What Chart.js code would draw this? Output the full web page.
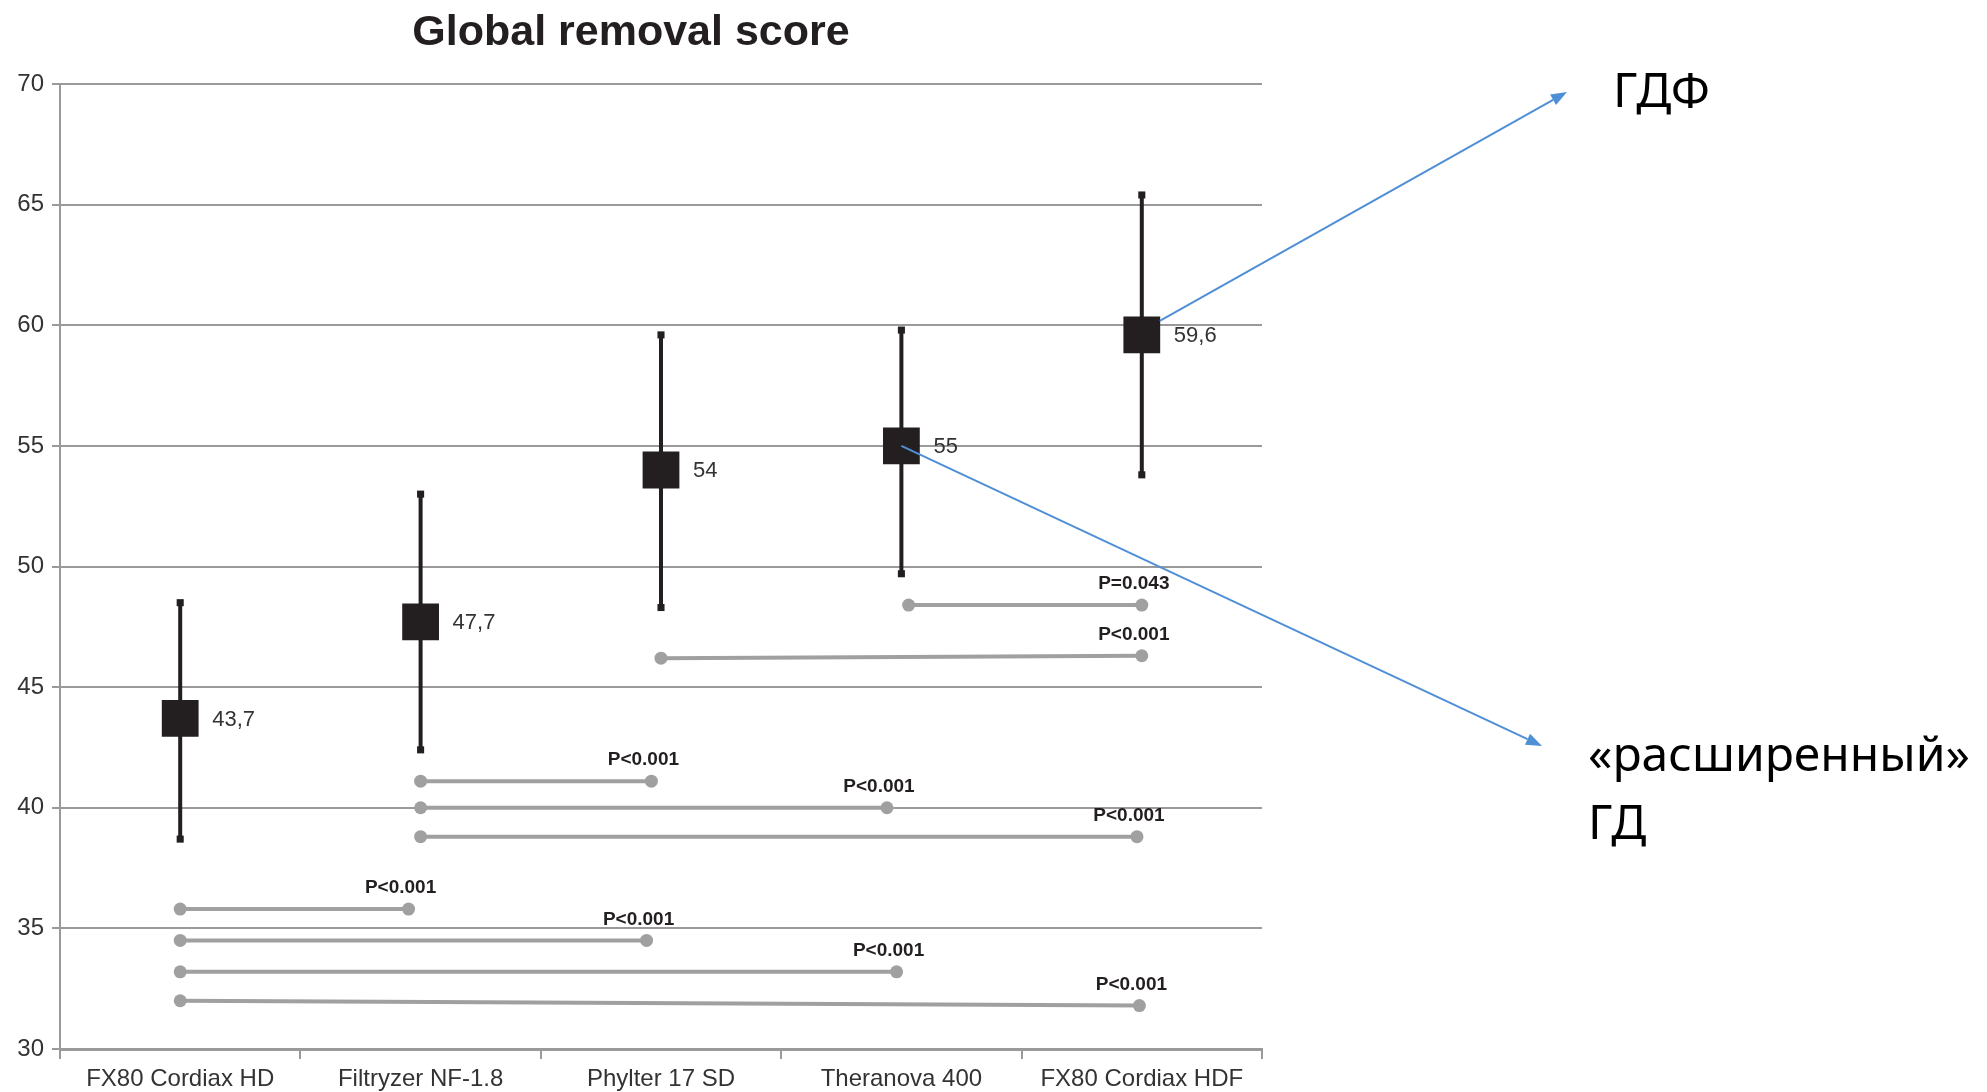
<!DOCTYPE html>
<html>
<head>
<meta charset="utf-8">
<script src="https://cdn.jsdelivr.net/npm/chart.js@4"></script>
<style>
  html, body { margin: 0; padding: 0; background: #fff; }
  #wrap { width: 1987px; height: 1092px; position: relative; }
</style>
</head>
<body>
<div id="wrap"><canvas id="chart"></canvas></div>
<script>
// Global removal score per dialyzer (mean with range)
const categories = ['FX80 Cordiax HD', 'Filtryzer NF-1.8', 'Phylter 17 SD', 'Theranova 400', 'FX80 Cordiax HDF'];
const meanValues = [43.7, 47.7, 54, 55, 59.6];
const meanLabels = ['43,7', '47,7', '54', '55', '59,6'];
const lowerValues = [38.7, 42.4, 48.3, 49.7, 53.8];
const upperValues = [48.5, 53.0, 59.6, 59.8, 65.4];
const yMin = 30, yMax = 70, yStep = 5;

// pairwise comparisons (x = category index, y = level on the score axis)
const pairFromX = [3.03, 2, 1, 1, 1, 0, 0, 0, 0];
const pairToX = [4, 4, 1.96, 2.94, 3.98, 0.95, 1.94, 2.98, 3.99];
const pairFromY = [48.4, 46.2, 41.1, 40.0, 38.8, 35.8, 34.5, 33.2, 32.0];
const pairToY = [48.4, 46.3, 41.1, 40.0, 38.8, 35.8, 34.5, 33.2, 31.8];
const pairLabels = ['P=0.043', 'P<0.001', 'P<0.001', 'P<0.001', 'P<0.001', 'P<0.001', 'P<0.001', 'P<0.001', 'P<0.001'];

// side notes
const noteHdf = ['ГДФ'];
const noteHd = ['«расширенный»', 'ГД'];

const dark = '#231f20';
const gray = '#a0a0a0';
const blue = '#4f8fd6';

const meanPoints = meanValues.map((v, i) => ({ x: i, y: v }));
const errorPoints = [];
lowerValues.forEach((lo, i) => {
    errorPoints.push({ x: i, y: lo }, { x: i, y: upperValues[i] }, { x: i, y: null });
});
const pairPoints = [];
pairFromX.forEach((x0, i) => {
    pairPoints.push({ x: x0, y: pairFromY[i] }, { x: pairToX[i], y: pairToY[i] }, { x: x0, y: null });
});

// value and p labels
const labelPlugin = {
    id: 'valueLabels',
    afterDatasetsDraw(chart) {
        const ctx = chart.ctx;
        ctx.save();
        ctx.fillStyle = '#333';
        ctx.font = '22px "Liberation Sans", Arial';
        ctx.textAlign = 'left';
        ctx.textBaseline = 'middle';
        chart.getDatasetMeta(0).data.forEach((pt, i) => {
            ctx.fillText(meanLabels[i], pt.x + 32, pt.y + 1);
        });
        ctx.fillStyle = dark;
        ctx.font = 'bold 19px "Liberation Sans", Arial';
        ctx.textAlign = 'center';
        const pairs = chart.getDatasetMeta(2).data;
        pairLabels.forEach((t, i) => {
            const end = pairs[i * 3 + 1];
            ctx.fillText(t, end.x - 8, end.y - 21);
        });
        ctx.restore();
    }
};

function arrow(ctx, x0, y0, x1, y1) {
    const a = Math.atan2(y1 - y0, x1 - x0);
    const len = 16, half = 6;
    ctx.beginPath();
    ctx.moveTo(x0, y0);
    ctx.lineTo(x1 - Math.cos(a) * len, y1 - Math.sin(a) * len);
    ctx.stroke();
    ctx.beginPath();
    ctx.moveTo(x1, y1);
    ctx.lineTo(x1 - Math.cos(a) * len - Math.sin(a) * half, y1 - Math.sin(a) * len + Math.cos(a) * half);
    ctx.lineTo(x1 - Math.cos(a) * len + Math.sin(a) * half, y1 - Math.sin(a) * len - Math.cos(a) * half);
    ctx.closePath();
    ctx.fill();
}

// arrows to the side notes
const notePlugin = {
    id: 'notes',
    afterDraw(chart) {
        const ctx = chart.ctx;
        const pts = chart.getDatasetMeta(0).data;
        const hdf = pts[4], thera = pts[3];
        ctx.save();
        ctx.strokeStyle = blue;
        ctx.fillStyle = blue;
        ctx.lineWidth = 2;
        arrow(ctx, hdf.x + 18, hdf.y - 14, 1567, 92);
        arrow(ctx, thera.x, thera.y, 1542, 746);

        ctx.fillStyle = '#000';
        ctx.font = '48px "Noto Sans", "Open Sans", sans-serif';
        ctx.textAlign = 'left';
        ctx.textBaseline = 'middle';
        noteHdf.forEach((t, i) => ctx.fillText(t, 1613, 93 + i * 68));
        noteHd.forEach((t, i) => ctx.fillText(t, 1588, 757 + i * 68));
        ctx.restore();
    }
};

Chart.defaults.font.family = '"Liberation Sans", Arial, sans-serif';
Chart.defaults.color = '#333';

new Chart(document.getElementById('chart'), {
    type: 'line',
    data: {
        labels: categories,
        datasets: [
            {
                label: 'Mean',
                data: meanPoints,
                xAxisID: 'xv',
                showLine: false,
                pointStyle: 'rect',
                pointRadius: 26,
                pointBackgroundColor: dark,
                pointBorderWidth: 0,
                order: 0
            },
            {
                label: 'Range',
                data: errorPoints,
                xAxisID: 'xv',
                borderColor: dark,
                borderWidth: 4,
                spanGaps: false,
                pointStyle: 'rect',
                pointRadius: 5,
                pointBackgroundColor: dark,
                pointBorderWidth: 0,
                order: 1
            },
            {
                label: 'Comparison',
                data: pairPoints,
                xAxisID: 'xv',
                borderColor: gray,
                borderWidth: 4,
                spanGaps: false,
                pointStyle: 'circle',
                pointRadius: 6.5,
                pointBackgroundColor: gray,
                pointBorderWidth: 0,
                order: 2
            }
        ]
    },
    options: {
        responsive: true,
        maintainAspectRatio: false,
        animation: false,
        layout: { padding: { left: 0, right: 725, top: 0, bottom: 0 } },
        plugins: {
            legend: { display: false },
            tooltip: { enabled: false },
            title: {
                display: true,
                text: 'Global removal score',
                color: dark,
                font: { size: 43, weight: 'bold' },
                padding: { top: 7, bottom: 25.4 }
            }
        },
        scales: {
            x: {
                type: 'category',
                offset: true,
                grid: { offset: true, drawOnChartArea: false, tickLength: 10, color: '#9a9a9a', lineWidth: 2 },
                border: { display: true, color: '#9a9a9a', width: 3 },
                ticks: { font: { size: 24 }, color: '#333', padding: 6 },
                afterFit(scale) { scale.height = 43; }
            },
            xv: {
                type: 'linear',
                display: false,
                min: -0.5,
                max: 4.5
            },
            y: {
                min: yMin,
                max: yMax,
                ticks: { stepSize: yStep, font: { size: 24 }, color: '#333', padding: 8 },
                grid: { color: '#9a9a9a', lineWidth: 2, tickLength: 8 },
                border: { display: true, color: '#9a9a9a', width: 2 },
                afterFit(scale) { scale.width = 60; }
            }
        }
    },
    plugins: [labelPlugin, notePlugin]
});
</script>
</body>
</html>
